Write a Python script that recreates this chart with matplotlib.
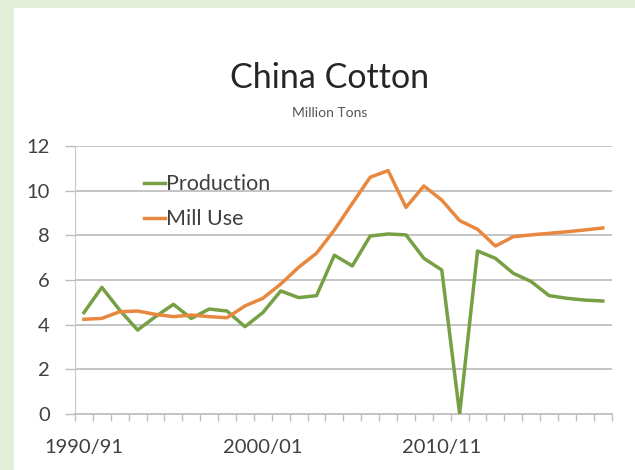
import matplotlib
matplotlib.use("Agg")
import matplotlib.pyplot as plt
import numpy as np
from matplotlib.ticker import FixedLocator

# Marketing years 1990/91 .. 2019/20
seasons = [f"{y}/{str(y + 1)[-2:]}" for y in range(1990, 2020)]
tick_labels = ["1990/91", "2000/01", "2010/11"]

production = [4.54, 5.67, 4.65, 3.76, 4.36, 4.91, 4.28, 4.70, 4.61, 3.91,
              4.54, 5.51, 5.21, 5.30, 7.11, 6.63, 7.97, 8.06, 8.02, 6.97,
              6.45, 0.00, 7.30, 6.97, 6.30, 5.93, 5.30, 5.18, 5.10, 5.06]

mill_use = [4.24, 4.28, 4.58, 4.61, 4.46, 4.36, 4.43, 4.36, 4.31, 4.84,
            5.18, 5.82, 6.57, 7.20, 8.24, 9.43, 10.60, 10.90, 9.25, 10.21,
            9.58, 8.66, 8.27, 7.52, 7.94, 8.02, 8.09, 8.16, 8.24, 8.33]

plt.rcParams["font.family"] = ["Lato", "DejaVu Sans"]

W, H = 635, 470
fig = plt.figure(figsize=(W / 100, H / 100), dpi=100)
fig.patch.set_facecolor("#e2eed8")

# white chart panel behind everything
panel = plt.Rectangle((14 / W, 0), 1 - 14 / W, 1 - 8 / H, transform=fig.transFigure,
                      facecolor="white", edgecolor="none", zorder=-10)
fig.patches.append(panel)

ax = fig.add_axes([75 / W, 1 - 414 / H, (611.7 - 75) / W, (414 - 146) / H])
ax.set_zorder(5)
ax.set_facecolor("none")

x = np.arange(len(seasons))
ax.plot(x, production, color="#77a045", lw=2.5, label="Production", zorder=3)
ax.plot(x, mill_use, color="#e8883f", lw=2.5, label="Mill Use", zorder=3)

ax.set_xlim(-0.5, len(seasons) - 0.5)
ax.set_ylim(0, 12)
ax.set_yticks(np.arange(0, 13, 2))
ax.tick_params(axis="y", length=7, color="#bdbdbd", width=1, labelsize=14.5,
               labelcolor="#404040", pad=11)

# category labels every ten seasons, tick marks on category boundaries
ax.set_xticks([seasons.index(t) for t in tick_labels])
ax.set_xticklabels(tick_labels)
ax.xaxis.set_minor_locator(FixedLocator(np.arange(-0.5, len(seasons), 1.0)))
ax.tick_params(axis="x", which="major", length=0, labelsize=14.5,
               labelcolor="#404040", pad=18)
ax.tick_params(axis="x", which="minor", length=5, color="#bdbdbd", width=1)

ax.grid(axis="y", color="#c4c4c4", lw=1.4)
ax.set_axisbelow(True)
for side in ("top", "right"):
    ax.spines[side].set_visible(False)
ax.spines["left"].set_color("#c8c8c8")
ax.spines["bottom"].set_color("#c4c4c4")
ax.spines["bottom"].set_linewidth(1.4)

leg = ax.legend(loc="upper left", bbox_to_anchor=(0.128, 0.895), frameon=False,
                fontsize=15.5, handlelength=1.0, handletextpad=0.05,
                labelspacing=0.7, borderaxespad=0, borderpad=0)
for t in leg.get_texts():
    t.set_color("#404040")

fig.text(330 / W, 1 - 78 / H, "China Cotton", ha="center", va="center",
         fontsize=24.5, color="#262626")
fig.text(330 / W, 1 - 113 / H, "Million Tons", ha="center", va="center",
         fontsize=10, color="#555555")

fig.savefig("out.png", dpi=100, facecolor=fig.get_facecolor())
